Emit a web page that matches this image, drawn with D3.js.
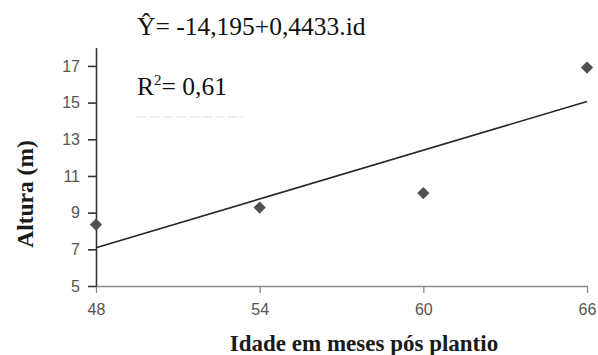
<!DOCTYPE html>
<html>
<head>
<meta charset="utf-8">
<script src="https://cdn.jsdelivr.net/npm/d3@7"></script>
<style>
  html, body { margin: 0; padding: 0; background: #fff; }
  svg { display: block; }
</style>
</head>
<body>
<svg id="chart" width="598" height="355"></svg>
<script>
// Ages (months after planting) and measured heights (m)
const ages = [48, 54, 60, 66];
const heights = [8.35, 9.28, 10.07, 16.91];

// Tick values
const xTicks = [48, 54, 60, 66];
const yTicks = [5, 7, 9, 11, 13, 15, 17];

// Fitted regression: Ŷ = a + b·id
const fitCoef = [-14.195, 0.4433];
const fitLabel = "Ŷ= -14,195+0,4433.id";
const r2Label = ["R", "2", "= 0,61"];

const xTitle = "Idade em meses pós plantio";
const yTitle = "Altura (m)";

const svg = d3.select("#chart");

const x = d3.scaleLinear().domain([48, 66]).range([96, 587]);
const y = d3.scaleLinear().domain([5, 18]).range([286, 47.6]);

const tickFont = "'Liberation Sans', Arial, sans-serif";
const serif = "'Liberation Serif', 'Times New Roman', serif";

// X axis
const xAxis = svg.append("g")
  .attr("transform", `translate(0,${y(5)})`)
  .call(d3.axisBottom(x).tickValues(xTicks).tickSize(7).tickSizeOuter(0).tickPadding(11));
xAxis.select(".domain").attr("stroke", "#8a8a8a").attr("stroke-width", 1.3);
xAxis.selectAll(".tick line").attr("stroke", "#8a8a8a").attr("stroke-width", 1.3);
xAxis.selectAll(".tick text")
  .attr("font-family", tickFont).attr("font-size", 16).attr("fill", "#555");

// Y axis
const yAxis = svg.append("g")
  .attr("transform", `translate(${x(48)},0)`)
  .call(d3.axisLeft(y).tickValues(yTicks).tickSize(8).tickSizeOuter(0).tickPadding(8));
yAxis.select(".domain").attr("stroke", "#333").attr("stroke-width", 1.6);
yAxis.selectAll(".tick line").attr("stroke", "#333").attr("stroke-width", 1.6);
yAxis.selectAll(".tick text")
  .attr("font-family", tickFont).attr("font-size", 16).attr("fill", "#555");

// Regression line drawn from the stated equation
const fit = v => fitCoef[0] + fitCoef[1] * v;
svg.append("line")
  .attr("x1", x(ages[0])).attr("y1", y(fit(ages[0])))
  .attr("x2", x(ages[ages.length - 1])).attr("y2", y(fit(ages[ages.length - 1])))
  .attr("stroke", "#262626").attr("stroke-width", 1.6);

// Observed points as diamonds
const diamond = d3.symbol().type(d3.symbolSquare).size(75);
svg.append("g").selectAll("path")
  .data(ages.map((a, i) => [a, heights[i]]))
  .join("path")
  .attr("d", diamond)
  .attr("transform", d => `translate(${x(d[0])},${y(d[1])}) rotate(45)`)
  .attr("fill", "#505050");

// Equation and coefficient of determination
svg.append("text")
  .attr("x", 137).attr("y", 35)
  .attr("font-family", serif).attr("font-size", 25.5).attr("fill", "#111")
  .text(fitLabel);

const r2 = svg.append("text")
  .attr("x", 137).attr("y", 95)
  .attr("font-family", serif).attr("font-size", 25.5).attr("fill", "#111");
r2.append("tspan").text(r2Label[0]);
r2.append("tspan").attr("font-size", 15).attr("dy", -10).text(r2Label[1]);
r2.append("tspan").attr("dy", 10).text(r2Label[2]);

// faint rule beneath the R² line
svg.append("line")
  .attr("x1", 137).attr("x2", 243).attr("y1", 117).attr("y2", 117)
  .attr("stroke", "#ececec").attr("stroke-width", 1.5).attr("stroke-dasharray", "10 3");

// Axis titles
svg.append("text")
  .attr("x", 364).attr("y", 351)
  .attr("text-anchor", "middle")
  .attr("font-family", serif).attr("font-weight", "bold").attr("font-size", 23).attr("fill", "#1a1a1a")
  .text(xTitle);

svg.append("text")
  .attr("transform", "translate(33,194) rotate(-90)")
  .attr("text-anchor", "middle")
  .attr("font-family", serif).attr("font-weight", "bold").attr("font-size", 23.5).attr("fill", "#1a1a1a")
  .text(yTitle);
</script>
</body>
</html>
